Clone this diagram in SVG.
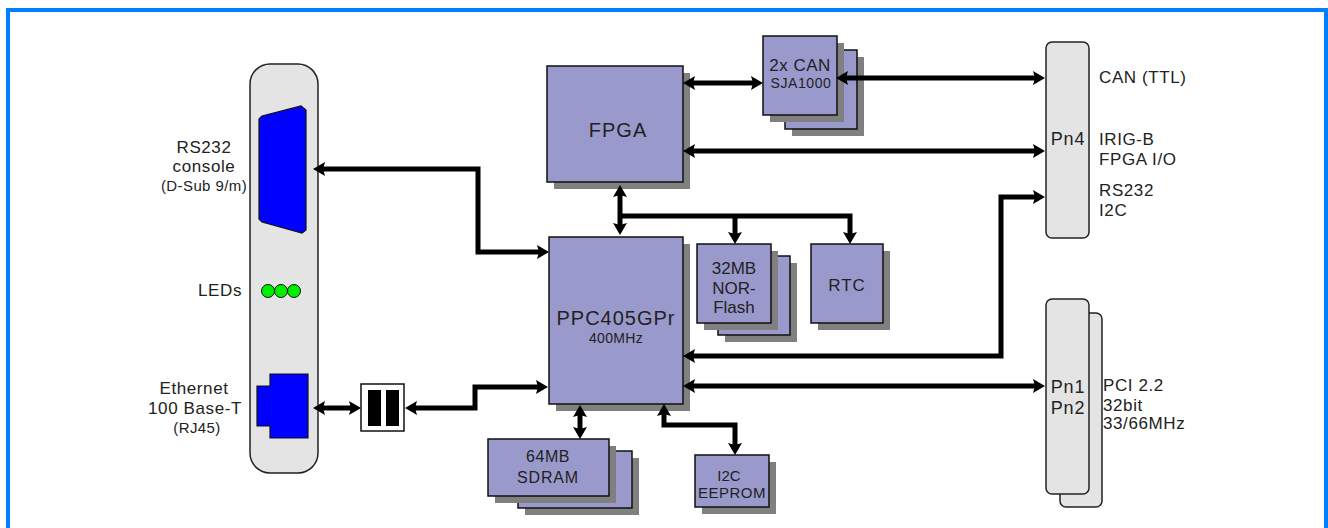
<svg xmlns="http://www.w3.org/2000/svg" width="1328" height="528" viewBox="0 0 1328 528">
<style>
  text { font-family: "Liberation Sans", Arial, sans-serif; fill: #222; }
  .lbl { font-size: 17px; letter-spacing: 0.6px; }
  .sm { font-size: 15px; letter-spacing: 0.4px; }
  .box { fill: #9999cc; stroke: #111; stroke-width: 1.5; }
  .shd { fill: #808080; }
  .pnl { fill: #e4e4e4; stroke: #222; stroke-width: 1.5; }
  .con { fill: none; stroke: #000; stroke-width: 5; stroke-linejoin: miter; }
  .bi { marker-start: url(#ah); marker-end: url(#ah); }
  .one { marker-end: url(#ah); }
  .c { text-anchor: middle; }
</style>
<defs>
  <marker id="ah" markerUnits="userSpaceOnUse" markerWidth="14" markerHeight="14" refX="4" refY="7" orient="auto-start-reverse">
    <path d="M0,0 L12,7 L0,14 L2,7 z" fill="#000"/>
  </marker>
</defs>
<rect width="1328" height="528" fill="#fff"/>
<path d="M8,528 V10 H1326 V528" fill="none" stroke="#0080ff" stroke-width="4"/>

<g id="front-panel">
  <rect class="pnl" x="250" y="64" width="68" height="409" rx="20" ry="20"/>
  <polygon points="259,119 262,116 301,106 306,110 306,230 302,233 262,222 259,219" fill="#0000ff" stroke="#111" stroke-width="1.2"/>
  <circle cx="268" cy="291" r="6.5" fill="#00ee00" stroke="#111" stroke-width="1"/>
  <circle cx="281" cy="291" r="6.5" fill="#00ee00" stroke="#111" stroke-width="1"/>
  <circle cx="294" cy="291" r="6.5" fill="#00ee00" stroke="#111" stroke-width="1"/>
  <polygon points="270,374 308,374 308,438 270,438 270,426 257,426 257,386 270,386" fill="#0000ff" stroke="#111" stroke-width="1.2"/>
  <text class="lbl c" x="204" y="153">RS232</text>
  <text class="lbl c" x="204" y="172">console</text>
  <text class="sm c" x="204" y="191">(D-Sub 9/m)</text>
  <text class="lbl" x="242" y="296" text-anchor="end">LEDs</text>
  <text class="lbl c" x="194" y="394">Ethernet</text>
  <text class="lbl c" x="195" y="414">100 Base-T</text>
  <text class="sm c" x="197" y="433">(RJ45)</text>
</g>

<g id="magnetics">
  <rect x="361" y="384" width="43" height="47" fill="#fff" stroke="#111" stroke-width="1.5"/>
  <rect x="368" y="390" width="13" height="36" fill="#000"/>
  <rect x="386" y="390" width="13" height="36" fill="#000"/>
</g>

<g id="fpga">
  <rect class="shd" x="554" y="73" width="136" height="116"/>
  <rect class="box" x="547" y="66" width="136" height="116"/>
  <text class="c" x="618" y="137" font-size="20" letter-spacing="1">FPGA</text>
</g>

<g id="can">
  <rect class="shd" x="792" y="57" width="72" height="79"/>
  <rect class="box" x="785" y="50" width="72" height="79"/>
  <rect class="shd" x="770" y="43" width="74" height="79"/>
  <rect class="box" x="763" y="36" width="74" height="79"/>
  <text class="c" x="800" y="71" font-size="17" letter-spacing="0.5">2x CAN</text>
  <text class="c" x="801" y="88" font-size="14" letter-spacing="0.6">SJA1000</text>
</g>

<g id="ppc">
  <rect class="shd" x="556" y="244" width="134" height="167"/>
  <rect class="box" x="549" y="237" width="134" height="167"/>
  <text class="c" x="616" y="325" font-size="20" letter-spacing="1">PPC405GPr</text>
  <text class="c" x="616" y="343" font-size="14" letter-spacing="0.3">400MHz</text>
</g>

<g id="norflash">
  <rect class="shd" x="725" y="263" width="72" height="79"/>
  <rect class="box" x="718" y="256" width="72" height="79"/>
  <rect class="shd" x="704" y="251" width="74" height="79"/>
  <rect class="box" x="697" y="244" width="74" height="79"/>
  <text class="c" x="734" y="274" font-size="17">32MB</text>
  <text class="c" x="734" y="294" font-size="17">NOR-</text>
  <text class="c" x="734" y="313" font-size="17">Flash</text>
</g>

<g id="rtc">
  <rect class="shd" x="818" y="251" width="72" height="79"/>
  <rect class="box" x="811" y="244" width="72" height="79"/>
  <text class="c" x="847" y="291" font-size="17" letter-spacing="1">RTC</text>
</g>

<g id="sdram">
  <rect class="shd" x="525" y="458" width="114" height="57"/>
  <rect class="box" x="518" y="451" width="114" height="57"/>
  <rect class="shd" x="495" y="446" width="121" height="57"/>
  <rect class="box" x="488" y="439" width="121" height="57"/>
  <text class="c" x="548" y="462" font-size="16" letter-spacing="0.5">64MB</text>
  <text class="c" x="548" y="483" font-size="16" letter-spacing="0.8">SDRAM</text>
</g>

<g id="eeprom">
  <rect class="shd" x="702" y="462" width="74" height="52"/>
  <rect class="box" x="695" y="455" width="74" height="52"/>
  <text class="c" x="729" y="481" font-size="15">I2C</text>
  <text class="c" x="732" y="498" font-size="15" letter-spacing="0.5">EEPROM</text>
</g>

<g id="pn4">
  <rect class="pnl" x="1046" y="42" width="43" height="196" rx="6" ry="6"/>
  <text class="c" x="1068" y="145" font-size="18" letter-spacing="0.8">Pn4</text>
  <text class="lbl" x="1099" y="83">CAN (TTL)</text>
  <text class="lbl" x="1099" y="145">IRIG-B</text>
  <text class="lbl" x="1099" y="165">FPGA I/O</text>
  <text class="lbl" x="1099" y="196">RS232</text>
  <text class="lbl" x="1099" y="216">I2C</text>
</g>

<g id="pn1pn2">
  <rect class="pnl" x="1060" y="313" width="42" height="194" rx="6" ry="6"/>
  <rect class="pnl" x="1046" y="299" width="43" height="195" rx="6" ry="6"/>
  <text class="c" x="1068" y="393" font-size="18" letter-spacing="0.8">Pn1</text>
  <text class="c" x="1068" y="414" font-size="18" letter-spacing="0.8">Pn2</text>
  <text class="lbl" x="1103" y="391">PCI 2.2</text>
  <text class="lbl" x="1103" y="411">32bit</text>
  <text class="lbl" x="1103" y="429">33/66MHz</text>
</g>

<g id="connectors">
  <path class="con bi" d="M321,169 H478 V252 H541"/>
  <path class="con bi" d="M321,408 H353"/>
  <path class="con bi" d="M413,408 H475 V387 H540"/>
  <path class="con bi" d="M691,83 H755"/>
  <path class="con bi" d="M844,78 H1037"/>
  <path class="con bi" d="M691,151 H1037"/>
  <path class="con bi" d="M620,193 V227"/>
  <path class="con one" d="M620,216 H850 V236"/>
  <path class="con one" d="M735,216 V236"/>
  <path class="con bi" d="M580,413 V431"/>
  <path class="con bi" d="M664,412 V425 H735 V447"/>
  <path class="con bi" d="M691,356 H1001 V197 H1037"/>
  <path class="con bi" d="M691,386 H1037"/>
</g>
</svg>
